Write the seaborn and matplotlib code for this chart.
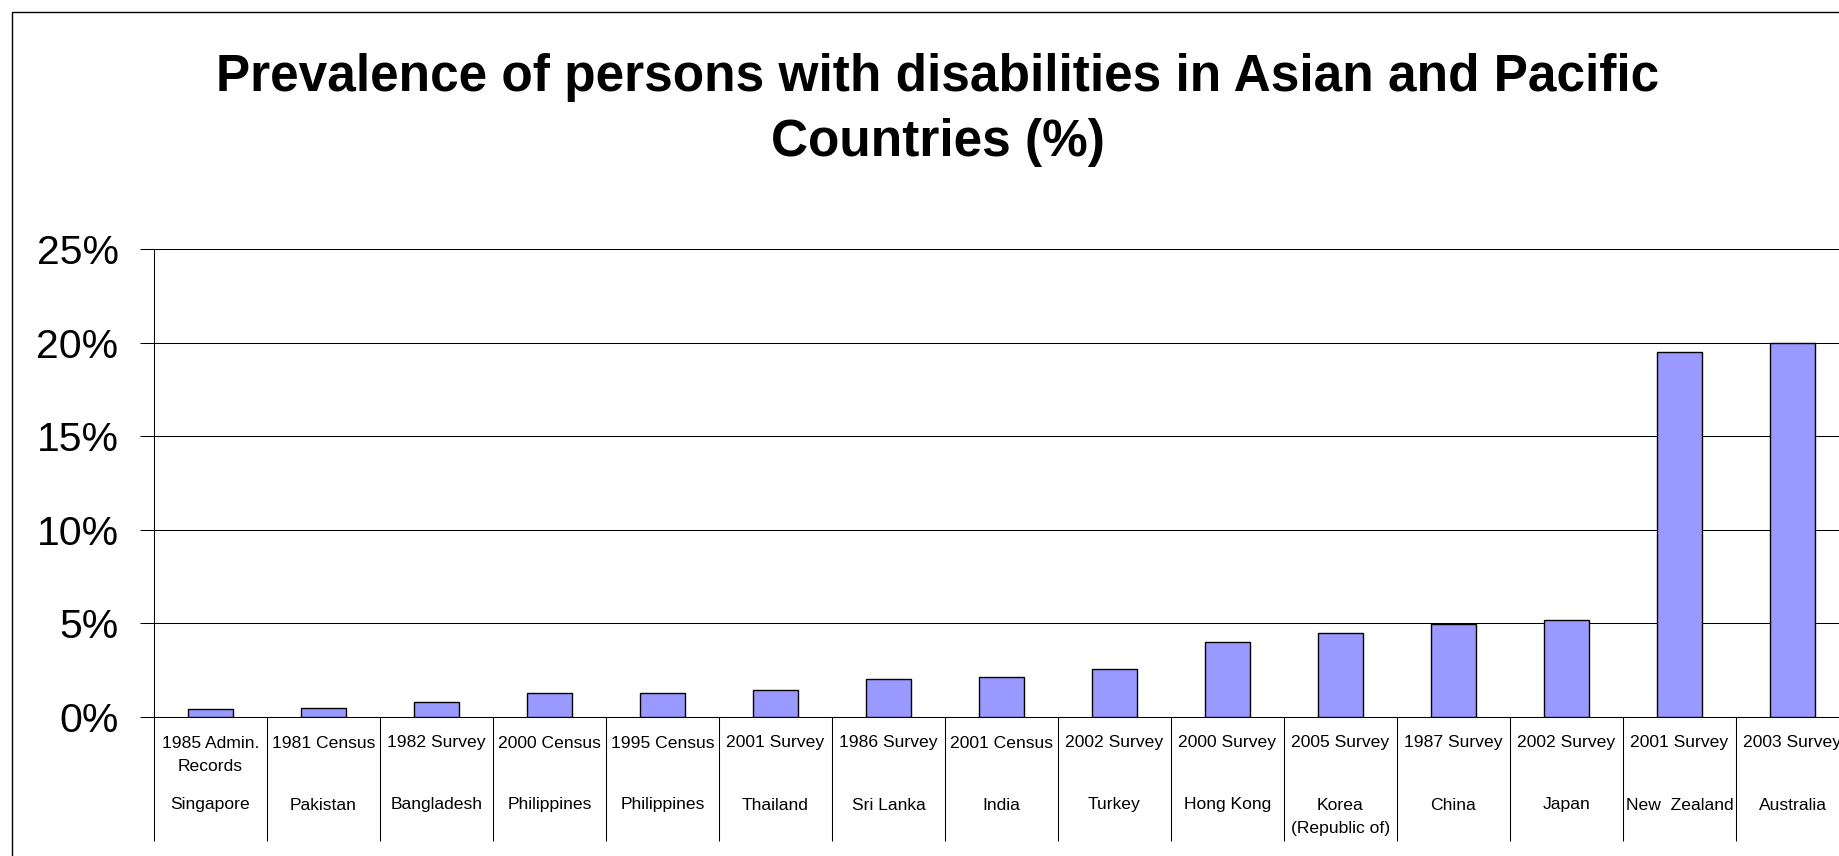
import matplotlib
matplotlib.use('Agg')
import matplotlib.pyplot as plt
import matplotlib.transforms as mtransforms
from matplotlib.patches import Rectangle
from matplotlib.ticker import FuncFormatter, MultipleLocator, FixedLocator
import seaborn as sns
import pandas as pd

# ---- data ----
surveys = ["1985 Admin.\nRecords", "1981 Census", "1982 Survey", "2000 Census",
           "1995 Census", "2001 Survey", "1986 Survey", "2001 Census",
           "2002 Survey", "2000 Survey", "2005 Survey", "1987 Survey",
           "2002 Survey", "2001 Survey", "2003 Survey"]
countries = ["Singapore", "Pakistan", "Bangladesh", "Philippines", "Philippines",
             "Thailand", "Sri Lanka", "India", "Turkey", "Hong Kong",
             "Korea\n(Republic of)", "China", "Japan", "New  Zealand", "Australia"]
values = [0.43, 0.49, 0.78, 1.25, 1.26, 1.45, 2.04, 2.13, 2.55, 3.98,
          4.50, 4.95, 5.16, 19.5, 20.0]
title = "Prevalence of persons with disabilities in Asian and Pacific\nCountries (%)"

sns.set_style('white')
plt.rcParams['font.family'] = ['Liberation Sans', 'DejaVu Sans']
plt.rcParams['text.color'] = 'black'

keys = [f"{s} | {c}" for s, c in zip(surveys, countries)]
df = pd.DataFrame({'key': keys, 'value': values})
n = len(values)

W, H = 1839, 856
fig = plt.figure(figsize=(W / 100, H / 100), dpi=100)
ax = fig.add_axes([154 / W, (H - 716.7) / H, 1695 / W, (716.7 - 249.3) / H])

sns.barplot(data=df, x='key', y='value', color='#9999FF', saturation=1,
            edgecolor='black', linewidth=1.0, width=0.4, ax=ax, zorder=3)

ax.set_xlim(-0.5, n - 0.5)
ax.set_ylim(0, 25)
ax.set_xlabel('')
ax.set_ylabel('')

ax.yaxis.set_major_locator(MultipleLocator(5))
ax.yaxis.set_major_formatter(FuncFormatter(lambda v, p: f'{v:.0f}%'))
ax.tick_params(axis='y', left=True, length=10, width=0.75, direction='out',
               pad=15.5, labelsize=29.5, color='black', labelcolor='black')
ax.grid(axis='y', color='black', linewidth=0.75, zorder=0)
ax.grid(axis='x', visible=False)
ax.set_axisbelow(True)

ax.xaxis.set_major_locator(FixedLocator(list(range(n))))
ax.set_xticklabels([''] * n)
ax.xaxis.set_minor_locator(FixedLocator([i - 0.5 for i in range(n + 1)]))
ax.tick_params(axis='x', which='major', length=0, bottom=False)
ax.tick_params(axis='x', which='minor', bottom=True, length=89, width=0.75,
               direction='out', color='black')

for side in ['top', 'right']:
    ax.spines[side].set_visible(False)
for side in ['left', 'bottom']:
    ax.spines[side].set_color('black')
    ax.spines[side].set_linewidth(0.75)

trans = mtransforms.blended_transform_factory(ax.transData, fig.transFigure)
for i, (s, c) in enumerate(zip(surveys, countries)):
    ax.text(i, 1 - 735.5 / H, s, ha='center', va='top', fontsize=12.6,
            transform=trans, clip_on=False, linespacing=1.7, color='black')
    ax.text(i, 1 - 797.5 / H, c, ha='center', va='top', fontsize=12.6,
            transform=trans, clip_on=False, linespacing=1.7, color='black')

fig.text(937.5 / W, 1 - 52.5 / H, title, ha='center', va='top',
         fontsize=37, fontweight='bold', linespacing=1.44, color='black')

fig.add_artist(Rectangle((12 / W, -0.05), 1.2, 0.05 + (H - 12) / H,
                         transform=fig.transFigure, fill=False,
                         edgecolor='black', linewidth=1.0))

fig.savefig('out.png', dpi=100)
